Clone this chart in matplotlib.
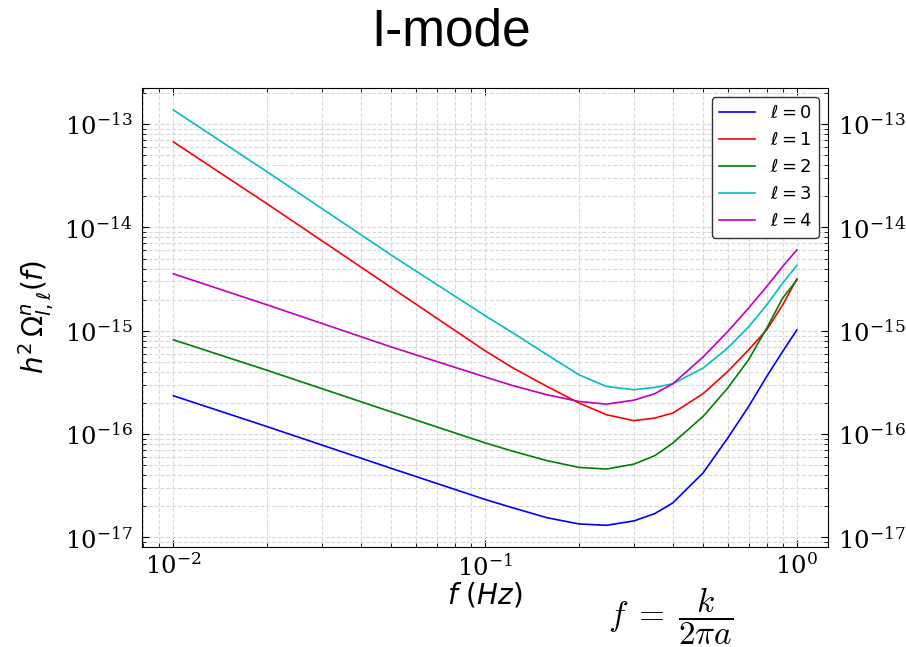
import matplotlib
matplotlib.use("Agg")
import matplotlib.pyplot as plt
import numpy as np

# frequency samples (Hz)
freq = [0.01, 0.02, 0.05, 0.1, 0.123, 0.158, 0.2, 0.245, 0.3, 0.35, 0.4, 0.5, 0.6, 0.7, 0.8, 0.9, 1.0]

# h^2 Omega for each multipole, in units of 1e-16
omega_l0 = [2.35, 1.18, 0.466, 0.233, 0.193, 0.155, 0.135, 0.131, 0.1445, 0.170, 0.216,
            0.421, 0.917, 1.85, 3.61, 6.31, 10.2]
omega_l1 = [673, 169, 26.2, 6.4, 4.36, 2.89, 2.00, 1.54, 1.35, 1.43, 1.60,
            2.46, 4.04, 6.55, 10.2, 17.8, 31.8]
omega_l2 = [8.18, 4.14, 1.64, 0.822, 0.681, 0.553, 0.476, 0.459, 0.512, 0.618, 0.820,
            1.48, 2.79, 5.25, 10.6, 20.7, 31.1]
omega_l3 = [1371, 345, 54.0, 14.0, 9.51, 5.86, 3.75, 2.89, 2.69, 2.83, 3.07,
            4.36, 6.81, 10.9, 17.8, 28.9, 42.9]
omega_l4 = [35.6, 17.8, 6.97, 3.57, 2.94, 2.40, 2.07, 1.95, 2.13, 2.46, 3.07,
            5.57, 9.84, 16.6, 26.8, 41.9, 60.7]

series = [omega_l0, omega_l1, omega_l2, omega_l3, omega_l4]
labels = [r"$\ell=%d$" % i for i in range(5)]
colors = ["b", "r", "g", "c", "m"]

fig = plt.figure(figsize=(9.06, 6.47), dpi=100)
ax = fig.add_axes([0.157, 0.155, 0.757, 0.709])

for vals, lab, col in zip(series, labels, colors):
    ax.loglog(freq, np.array(vals) * 1e-16, color=col, lw=1.2, label=lab)

ax.set_xlim(10 ** -2.1, 10 ** 0.1)
ax.set_ylim(10 ** -17.09, 10 ** -12.65)

ax.grid(True, which="both", linestyle="--", color="#d9d9d9", linewidth=0.8)
ax.set_axisbelow(True)
ax.tick_params(which="both", direction="in", top=True, right=True, labelright=True,
               labelsize=17.5, labelfontfamily="DejaVu Serif")
ax.tick_params(axis="y", pad=7)
ax.tick_params(axis="x", pad=5)
ax.tick_params(which="major", length=5)
ax.tick_params(which="minor", length=3)

ax.set_xlabel(r"$f\ (Hz)$", fontsize=20, labelpad=0)
ax.set_ylabel(r"$h^2\,\Omega^n_{l,\ell}(f)$", fontsize=20, labelpad=6)

leg = ax.legend(loc="upper right", fontsize=13, framealpha=1, edgecolor="0.2", fancybox=True)
leg.get_frame().set_linewidth(1.0)

fig.text(0.498, 0.951, "I-mode", fontsize=37, family="Liberation Sans", ha="center", va="center")
fig.text(0.74, 0.048, r"$f\;=\;\dfrac{k}{2\pi a}$", fontsize=24, math_fontfamily="cm",
         ha="center", va="center")

fig.savefig("out.png", dpi=100)
